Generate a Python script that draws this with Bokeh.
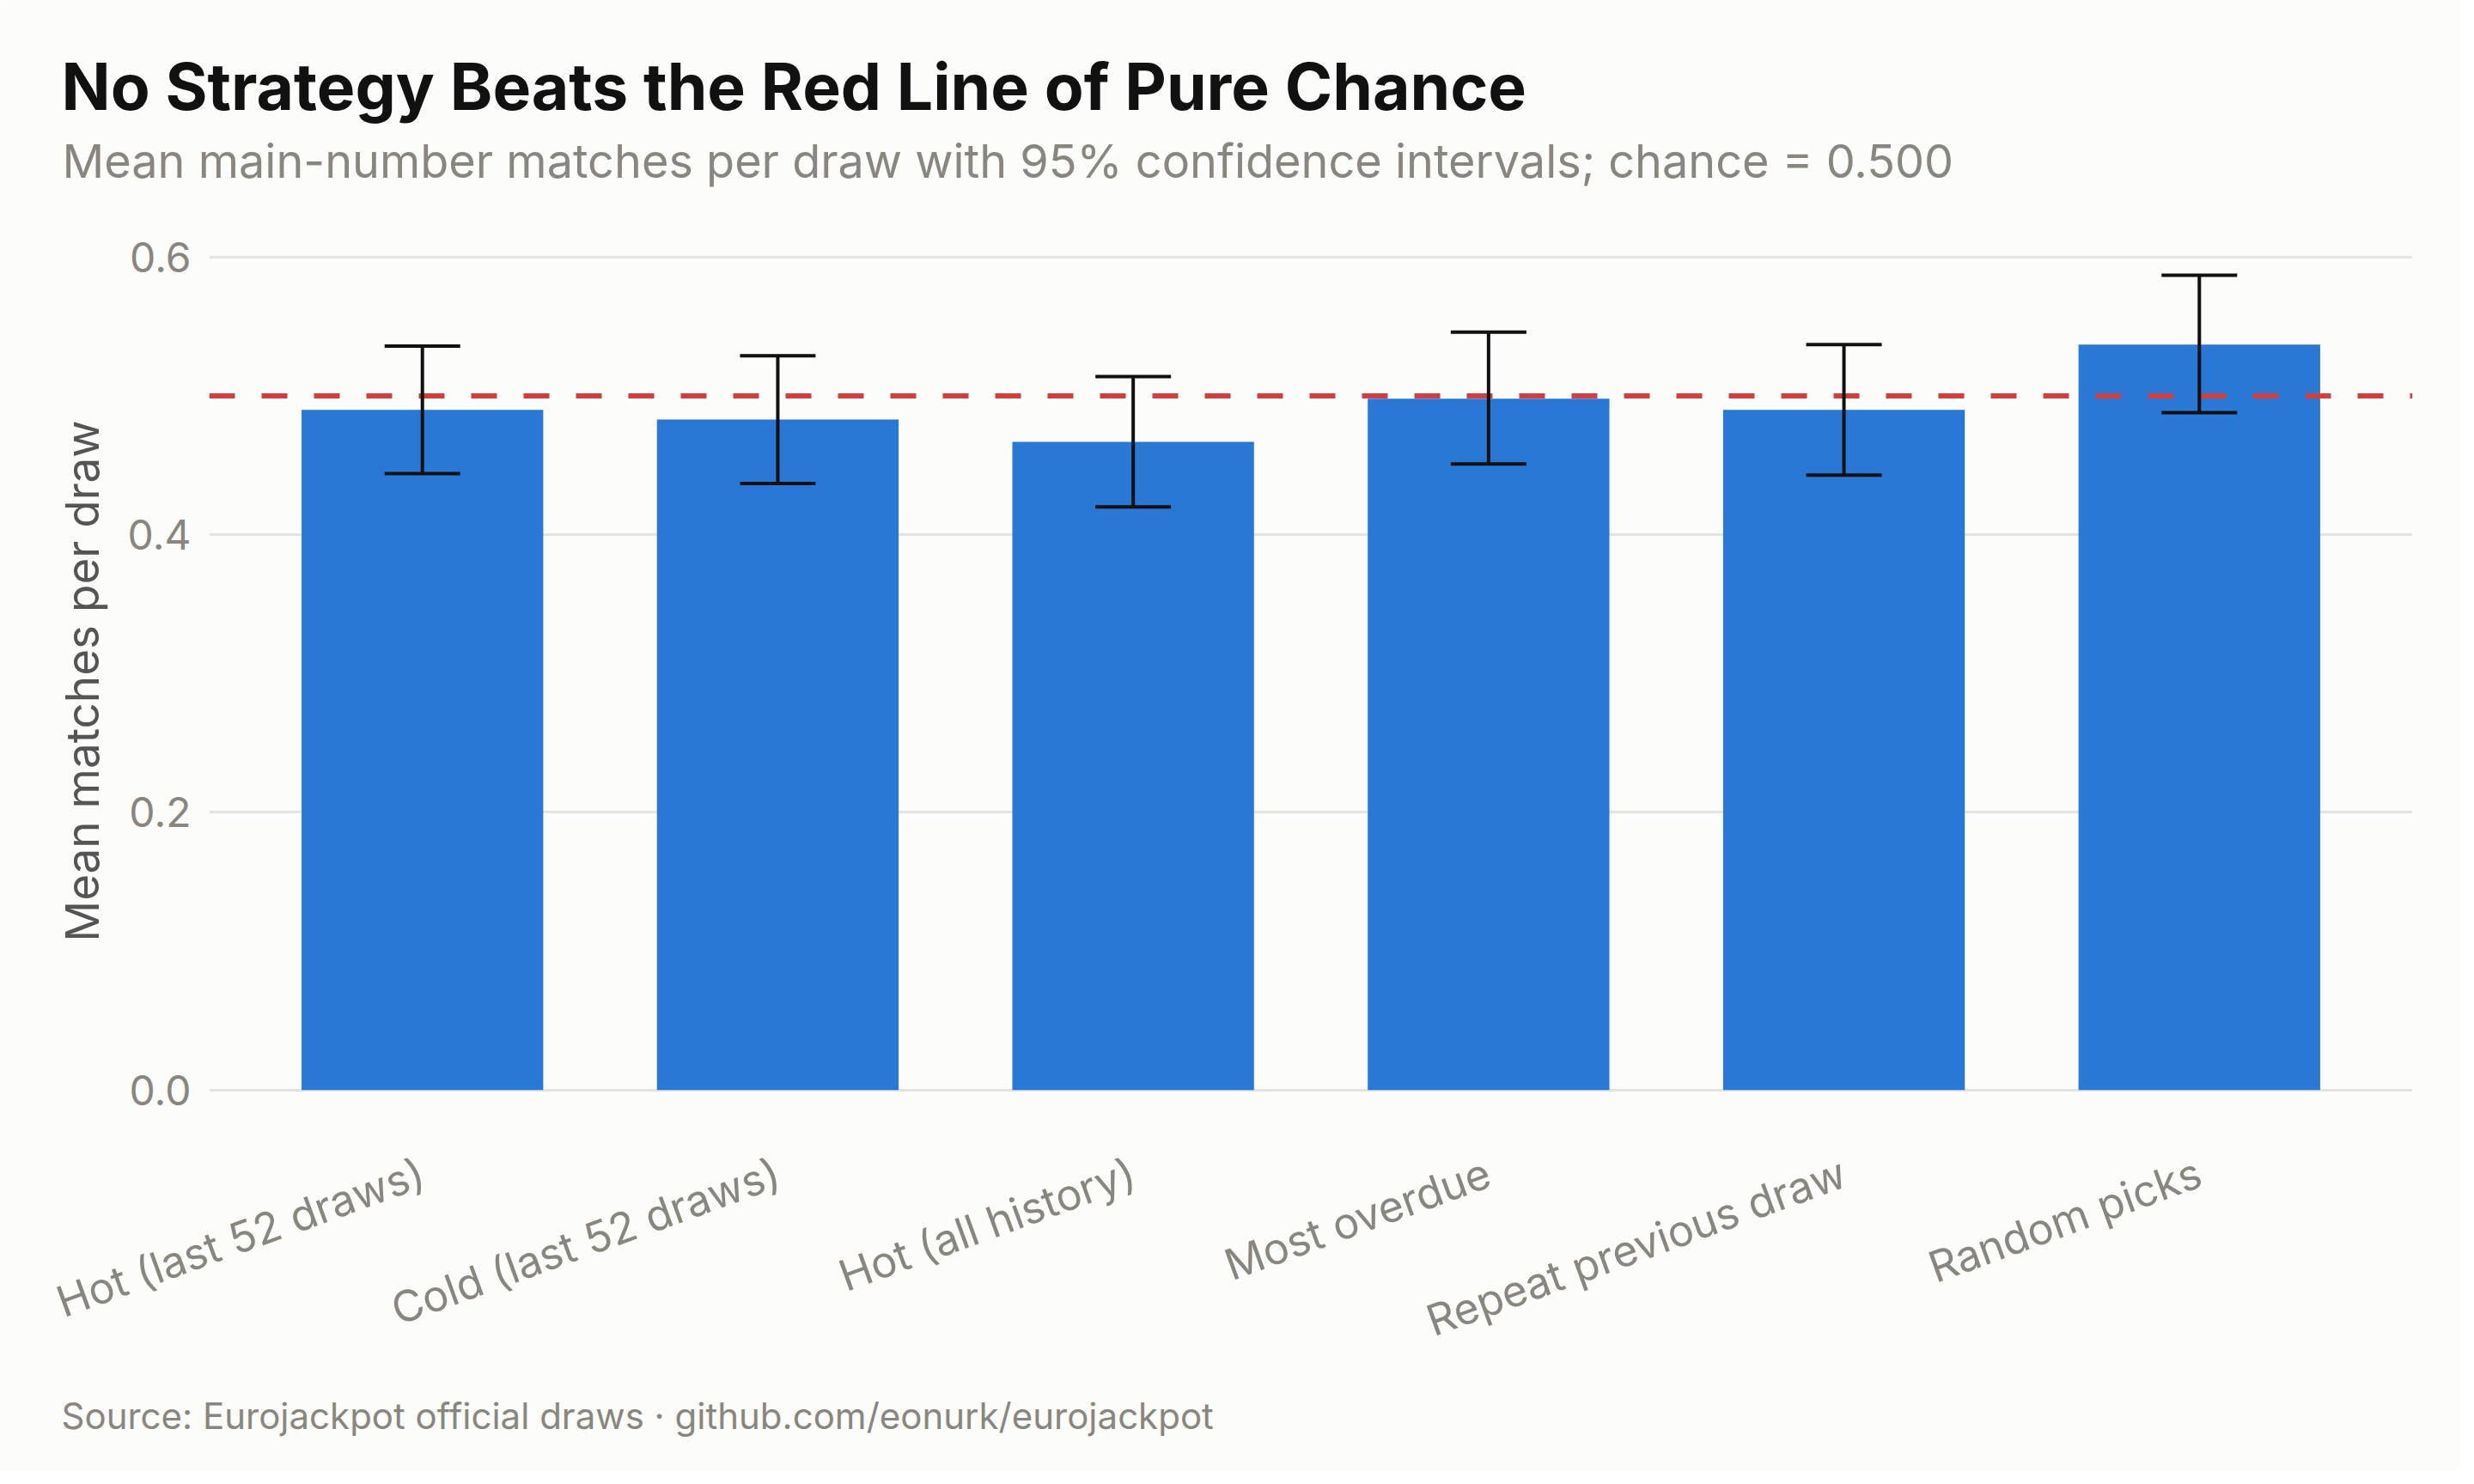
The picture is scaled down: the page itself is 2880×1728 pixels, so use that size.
import math
from bokeh.plotting import figure
from bokeh.models import (ColumnDataSource, Range1d, FixedTicker, Span, Whisker,
                          TeeHead, Title, NumeralTickFormatter)
from bokeh.embed import file_html
from bokeh.resources import INLINE

# ---- data ----
strategies = ["Hot (last 52 draws)", "Cold (last 52 draws)", "Hot (all history)",
              "Most overdue", "Repeat previous draw", "Random picks"]
mean_matches = [0.490, 0.483, 0.467, 0.498, 0.490, 0.537]
ci_lower = [0.444, 0.437, 0.420, 0.451, 0.443, 0.488]
ci_upper = [0.536, 0.529, 0.514, 0.546, 0.537, 0.587]
chance = 0.500
y_ticks = [0.0, 0.2, 0.4, 0.6]

title_text = "No Strategy Beats the Red Line of Pure Chance"
subtitle_text = "Mean main-number matches per draw with 95% confidence intervals; chance = 0.500"
source_text = "Source: Eurojackpot official draws \u00b7 github.com/eonurk/eurojackpot"

FONT = "Inter"
BG = "#fcfcfa"
GRAY = "#898680"

idx = list(range(len(strategies)))
src = ColumnDataSource(dict(x=idx, top=mean_matches, lower=ci_lower, upper=ci_upper,
                            name=strategies))

W, H = 2864, 1712
p = figure(width=W, height=H, output_backend="svg", toolbar_location=None,
           title=None,
           x_range=Range1d(-0.6, len(strategies) - 0.4),
           y_range=Range1d(-0.06025, 0.64947),
           min_border_left=243, min_border_right=56,
           min_border_top=219, min_border_bottom=346)

p.background_fill_color = BG
p.border_fill_color = BG
p.outline_line_color = None

# bars
p.vbar(x="x", top="top", bottom=0, width=0.68, source=src,
       fill_color="#2a78d6", line_color=None)

# chance line
p.add_layout(Span(location=chance, dimension="width", line_color="#d03e3e",
                  line_width=6, line_dash="30 31", level="annotation"))

# confidence intervals
whisk = Whisker(source=src, base="x", lower="lower", upper="upper",
                line_color="#111111", line_width=4, level="annotation",
                upper_head=TeeHead(size=88, line_color="#111111", line_width=4),
                lower_head=TeeHead(size=88, line_color="#111111", line_width=4))
p.add_layout(whisk)

# axes
p.xaxis.ticker = FixedTicker(ticks=idx)
p.xaxis.major_label_overrides = {i: s for i, s in zip(idx, strategies)}
p.xaxis.major_label_orientation = math.radians(20)
p.xaxis.major_label_standoff = -3
p.yaxis.ticker = FixedTicker(ticks=y_ticks)
p.yaxis.formatter = NumeralTickFormatter(format="0.0")
p.yaxis.major_label_standoff = 21
for ax in (p.xaxis, p.yaxis):
    ax.axis_line_color = None
    ax.major_tick_line_color = None
    ax.minor_tick_line_color = None
    ax.major_tick_out = 0
    ax.major_tick_in = 0
    ax.major_label_text_font = FONT
    ax.major_label_text_color = GRAY
p.yaxis.major_label_text_font_size = "48px"
p.xaxis.major_label_text_font_size = "50px"

p.yaxis.axis_label = "Mean matches per draw"
p.yaxis.axis_label_text_font = FONT
p.yaxis.axis_label_text_font_size = "53px"
p.yaxis.axis_label_text_font_style = "normal"
p.yaxis.axis_label_text_color = "#555555"
p.yaxis.axis_label_standoff = 18

p.xgrid.grid_line_color = None
p.ygrid.grid_line_color = "#e4e3dd"
p.ygrid.grid_line_width = 3

# subtitle (closest to the frame) and title above it
p.add_layout(Title(text=subtitle_text, align="left", offset=-171, standoff=0,
                   vertical_align="bottom",
                   text_font=FONT, text_font_size="54px", text_font_style="normal",
                   text_color=GRAY), "above")
p.add_layout(Title(text=title_text, align="left", offset=-172, standoff=14,
                   vertical_align="bottom",
                   text_font=FONT, text_font_size="75px", text_font_style="bold",
                   text_color="#111111"), "above")
# source note below the x axis
p.add_layout(Title(text=source_text, align="left", offset=-172, standoff=49,
                   vertical_align="top",
                   text_font=FONT, text_font_size="42px", text_font_style="normal",
                   text_color=GRAY), "below")

open("out.html", "w").write(file_html(p, INLINE))
